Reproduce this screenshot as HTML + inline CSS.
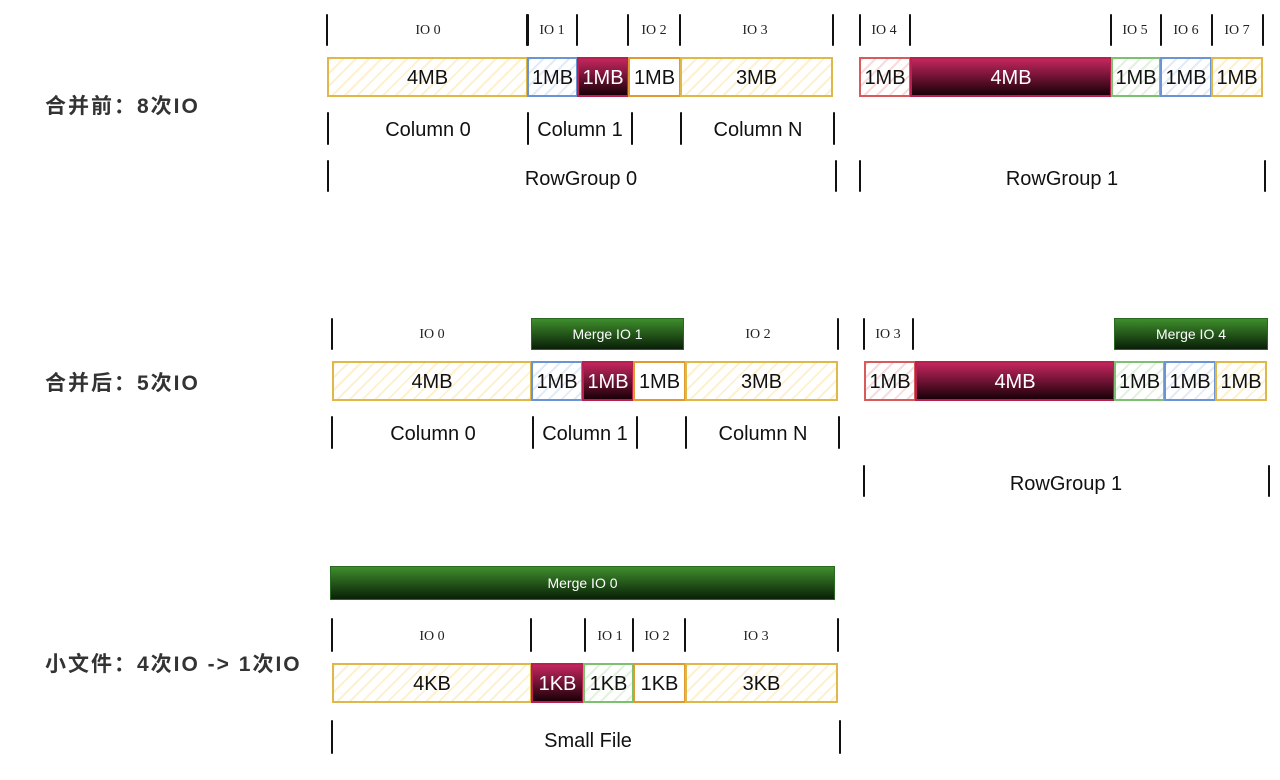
<!DOCTYPE html>
<html><head><meta charset="utf-8"><style>
body{margin:0;width:1280px;height:780px;background:#fff;position:relative;overflow:hidden;font-family:"Liberation Sans","Noto Sans CJK SC",sans-serif;}
div{position:absolute;box-sizing:border-box}
.b{height:40px;border:2px solid;display:flex;align-items:center;justify-content:center;font-size:20px;color:#111;padding-top:3px}
.y{border-color:#e0b84a;background:repeating-linear-gradient(135deg,#fdf1cf 0 2px,#fff 2px 9px)}
.bl{border-color:#6a94d4;background:repeating-linear-gradient(135deg,#e2ebf8 0 2px,#fff 2px 9px)}
.o{border-color:#e09a30;background:#fff}
.r{border-color:#d85a5a;background:repeating-linear-gradient(135deg,#f8dcdc 0 2px,#fff 2px 9px)}
.g{border-color:#7cc070;background:repeating-linear-gradient(135deg,#e2f2de 0 2px,#fff 2px 9px)}
.d{border-color:#b8204f;background:linear-gradient(#c4265e,#1a0008);color:#fff}
.m{height:32px;background:linear-gradient(#3e8e2c,#0a1f08);border:1px solid #2a6a20;color:#fff;font-size:14px;display:flex;align-items:center;justify-content:center}
.t{width:2px;background:#111;border-radius:1px}
.l{font-size:14px;color:#222;font-family:"Liberation Serif",serif;transform:translateX(-50%);white-space:nowrap}
.c{font-size:20px;color:#111;transform:translateX(-50%);white-space:nowrap}
.h{left:45px;font-size:21px;font-weight:bold;color:#333;letter-spacing:2px;white-space:nowrap}
</style></head><body>
<div class="h" style="top:90px">合并前：8次IO</div>
<div class="h" style="top:367px">合并后：5次IO</div>
<div class="h" style="top:648px">小文件：4次IO -&gt; 1次IO</div>

<!-- Row 1 -->
<div class="t" style="left:326px;top:14px;height:32px"></div>
<div class="t" style="left:526px;top:14px;height:32px;width:3px"></div>
<div class="t" style="left:576px;top:14px;height:32px"></div>
<div class="t" style="left:627px;top:14px;height:32px"></div>
<div class="t" style="left:679px;top:14px;height:32px"></div>
<div class="t" style="left:832px;top:14px;height:32px"></div>
<div class="l" style="left:428px;top:23px">IO 0</div>
<div class="l" style="left:552px;top:23px">IO 1</div>
<div class="l" style="left:654px;top:23px">IO 2</div>
<div class="l" style="left:755px;top:23px">IO 3</div>
<div class="t" style="left:859px;top:14px;height:32px"></div>
<div class="t" style="left:909px;top:14px;height:32px"></div>
<div class="t" style="left:1110px;top:14px;height:32px"></div>
<div class="t" style="left:1160px;top:14px;height:32px"></div>
<div class="t" style="left:1211px;top:14px;height:32px"></div>
<div class="t" style="left:1262px;top:14px;height:32px"></div>
<div class="l" style="left:884px;top:23px">IO 4</div>
<div class="l" style="left:1135px;top:23px">IO 5</div>
<div class="l" style="left:1186px;top:23px">IO 6</div>
<div class="l" style="left:1237px;top:23px">IO 7</div>

<div class="b y" style="left:327px;top:57px;width:201px">4MB</div>
<div class="b bl" style="left:527px;top:57px;width:51px">1MB</div>
<div class="b d" style="left:577px;top:57px;width:52px">1MB</div>
<div class="b o" style="left:628px;top:57px;width:53px">1MB</div>
<div class="b y" style="left:680px;top:57px;width:153px">3MB</div>
<div class="b r" style="left:859px;top:57px;width:52px">1MB</div>
<div class="b d" style="left:910px;top:57px;width:202px">4MB</div>
<div class="b g" style="left:1111px;top:57px;width:50px">1MB</div>
<div class="b bl" style="left:1160px;top:57px;width:52px">1MB</div>
<div class="b y" style="left:1211px;top:57px;width:52px">1MB</div>

<div class="t" style="left:327px;top:112px;height:33px"></div>
<div class="t" style="left:527px;top:112px;height:33px"></div>
<div class="t" style="left:631px;top:112px;height:33px"></div>
<div class="t" style="left:680px;top:112px;height:33px"></div>
<div class="t" style="left:833px;top:112px;height:33px"></div>
<div class="c" style="left:428px;top:119px">Column 0</div>
<div class="c" style="left:580px;top:119px">Column 1</div>
<div class="c" style="left:758px;top:119px">Column N</div>
<div class="t" style="left:327px;top:160px;height:32px"></div>
<div class="t" style="left:835px;top:160px;height:32px"></div>
<div class="t" style="left:859px;top:160px;height:32px"></div>
<div class="t" style="left:1264px;top:160px;height:32px"></div>
<div class="c" style="left:581px;top:168px">RowGroup 0</div>
<div class="c" style="left:1062px;top:168px">RowGroup 1</div>

<!-- Row 2 -->
<div class="t" style="left:331px;top:318px;height:32px"></div>
<div class="t" style="left:837px;top:318px;height:32px"></div>
<div class="l" style="left:432px;top:327px">IO 0</div>
<div class="l" style="left:758px;top:327px">IO 2</div>
<div class="m" style="left:531px;top:318px;width:153px">Merge IO 1</div>
<div class="t" style="left:863px;top:318px;height:32px"></div>
<div class="t" style="left:912px;top:318px;height:32px"></div>
<div class="l" style="left:888px;top:327px">IO 3</div>
<div class="m" style="left:1114px;top:318px;width:154px">Merge IO 4</div>

<div class="b y" style="left:332px;top:361px;width:200px">4MB</div>
<div class="b bl" style="left:531px;top:361px;width:52px">1MB</div>
<div class="b d" style="left:582px;top:361px;width:52px">1MB</div>
<div class="b o" style="left:633px;top:361px;width:53px">1MB</div>
<div class="b y" style="left:685px;top:361px;width:153px">3MB</div>
<div class="b r" style="left:864px;top:361px;width:52px">1MB</div>
<div class="b d" style="left:915px;top:361px;width:200px">4MB</div>
<div class="b g" style="left:1114px;top:361px;width:51px">1MB</div>
<div class="b bl" style="left:1164px;top:361px;width:52px">1MB</div>
<div class="b y" style="left:1215px;top:361px;width:52px">1MB</div>

<div class="t" style="left:331px;top:416px;height:33px"></div>
<div class="t" style="left:532px;top:416px;height:33px"></div>
<div class="t" style="left:636px;top:416px;height:33px"></div>
<div class="t" style="left:685px;top:416px;height:33px"></div>
<div class="t" style="left:838px;top:416px;height:33px"></div>
<div class="c" style="left:433px;top:423px">Column 0</div>
<div class="c" style="left:585px;top:423px">Column 1</div>
<div class="c" style="left:763px;top:423px">Column N</div>
<div class="t" style="left:863px;top:465px;height:32px"></div>
<div class="t" style="left:1268px;top:465px;height:32px"></div>
<div class="c" style="left:1066px;top:473px">RowGroup 1</div>

<!-- Row 3 -->
<div class="m" style="left:330px;top:566px;width:505px;height:34px">Merge IO 0</div>
<div class="t" style="left:331px;top:618px;height:34px"></div>
<div class="t" style="left:530px;top:618px;height:34px"></div>
<div class="t" style="left:584px;top:618px;height:34px"></div>
<div class="t" style="left:632px;top:618px;height:34px"></div>
<div class="t" style="left:684px;top:618px;height:34px"></div>
<div class="t" style="left:837px;top:618px;height:34px"></div>
<div class="l" style="left:432px;top:629px">IO 0</div>
<div class="l" style="left:610px;top:629px">IO 1</div>
<div class="l" style="left:657px;top:629px">IO 2</div>
<div class="l" style="left:756px;top:629px">IO 3</div>
<div class="b y" style="left:332px;top:663px;width:200px">4KB</div>
<div class="b d" style="left:531px;top:663px;width:53px">1KB</div>
<div class="b g" style="left:583px;top:663px;width:51px">1KB</div>
<div class="b o" style="left:633px;top:663px;width:53px">1KB</div>
<div class="b y" style="left:685px;top:663px;width:153px">3KB</div>
<div class="t" style="left:331px;top:720px;height:34px"></div>
<div class="t" style="left:839px;top:720px;height:34px"></div>
<div class="c" style="left:588px;top:730px">Small File</div>
</body></html>
